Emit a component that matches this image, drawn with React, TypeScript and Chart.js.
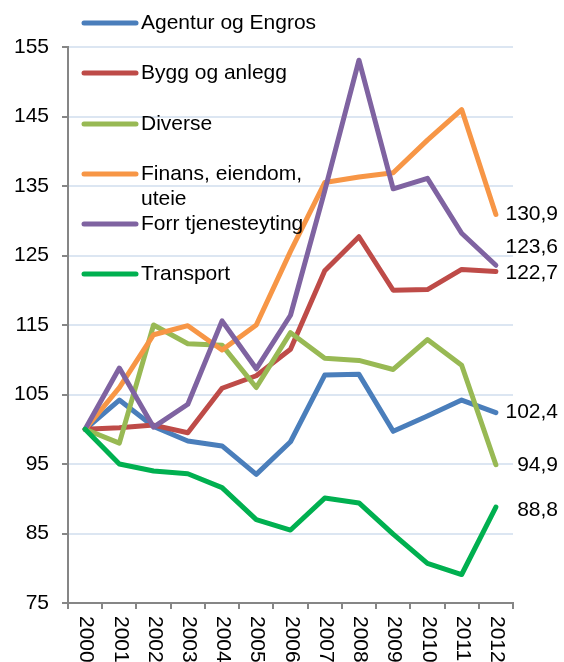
import React, { useEffect, useRef } from "react";
import { Chart, registerables } from "chart.js";

Chart.register(...registerables);

const years = ["2000","2001","2002","2003","2004","2005","2006","2007","2008","2009","2010","2011","2012"];
const seriesNames = ["Agentur og Engros", "Bygg og anlegg", "Diverse", "Finans, eiendom, uteie", "Forr tjenesteyting", "Transport"];
const legendLines = [["Agentur og Engros"], ["Bygg og anlegg"], ["Diverse"], ["Finans, eiendom,", "uteie"], ["Forr tjenesteyting"], ["Transport"]];
const agentur = [100, 104.2, 100.4, 98.3, 97.6, 93.5, 98.2, 107.8, 107.9, 99.7, 101.9, 104.2, 102.4];
const bygg = [100, 100.2, 100.6, 99.5, 105.9, 107.7, 111.5, 122.8, 127.7, 120.0, 120.1, 123.0, 122.7];
const diverse = [100, 98.0, 115.0, 112.3, 112.1, 106.0, 113.9, 110.2, 109.9, 108.6, 112.9, 109.2, 94.9];
const finans = [100, 106.0, 113.6, 114.9, 111.4, 115.0, 125.6, 135.5, 136.3, 136.9, 141.6, 146.0, 130.9];
const forr = [100, 108.8, 100.3, 103.6, 115.6, 108.7, 116.4, 134.3, 153.1, 134.6, 136.1, 128.2, 123.6];
const transport = [100, 95.0, 94.0, 93.6, 91.6, 87.0, 85.5, 90.1, 89.4, 84.9, 80.7, 79.1, 88.8];
const endLabels = ["102,4", "122,7", "94,9", "130,9", "123,6", "88,8"];
const yTicks = [75, 85, 95, 105, 115, 125, 135, 145, 155];

const colors = ["#4A7EBB", "#BE4B48", "#98B954", "#F79646", "#7F63A1", "#00B050"];
const endLabelDy = [0, 2, 1, 0, -18, 3];
const FONT = "'Liberation Sans', Arial, sans-serif";

const overlayPlugin = {
  id: "overlay",
  afterDatasetsDraw(chart: any) {
    const ctx = chart.ctx;
    const x = chart.scales.x;
    ctx.save();
    ctx.fillStyle = "#000";
    // rotated x labels (reading top to bottom)
    ctx.font = `21px ${FONT}`;
    ctx.textAlign = "left";
    ctx.textBaseline = "middle";
    years.forEach((yr, i) => {
      const px = x.getPixelForValue(i);
      ctx.save();
      ctx.translate(px + 1, chart.chartArea.bottom + 13);
      ctx.rotate(Math.PI / 2);
      ctx.fillText(yr, 0, 0);
      ctx.restore();
    });
    // end labels
    ctx.textAlign = "right";
    chart.data.datasets.forEach((ds: any, i: number) => {
      const meta = chart.getDatasetMeta(i);
      const pt = meta.data[meta.data.length - 1];
      ctx.fillText(endLabels[i], 558, pt.y + endLabelDy[i]);
    });
    // legend
    const rowY = [23, 73, 124, 174, 224, 274];
    ctx.font = `21px ${FONT}`;
    ctx.textAlign = "left";
    legendLines.forEach((lines, i) => {
      ctx.strokeStyle = colors[i];
      ctx.lineWidth = 5;
      ctx.lineCap = "round";
      ctx.beginPath();
      ctx.moveTo(84, rowY[i]);
      ctx.lineTo(136, rowY[i]);
      ctx.stroke();
      lines.forEach((t, j) => {
        ctx.fillText(t, 141, rowY[i] + j * 25);
      });
    });
    ctx.restore();
  },
};

export default function App() {
  const ref = useRef<HTMLCanvasElement>(null);
  useEffect(() => {
    if (!ref.current) return;
    const data = [agentur, bygg, diverse, finans, forr, transport];
    const chart = new Chart(ref.current, {
      type: "line",
      data: {
        labels: years,
        datasets: data.map((d, i) => ({
          label: seriesNames[i],
          data: d,
          borderColor: colors[i],
          backgroundColor: colors[i],
          borderWidth: 5,
          pointRadius: 0,
          borderJoinStyle: "round" as const,
          borderCapStyle: "round" as const,
          tension: 0,
          order: 5 - i,
        })),
      },
      options: {
        responsive: false,
        animation: false,
        devicePixelRatio: 1,
        layout: { padding: { top: 47, right: 51, left: 0, bottom: 0 } },
        plugins: { legend: { display: false }, tooltip: { enabled: false } },
        scales: {
          x: {
            offset: true,
            grid: { offset: true, drawOnChartArea: false, drawTicks: true, tickLength: 6, tickColor: "#868686", lineWidth: 2 },
            border: { color: "#868686", width: 2 },
            ticks: { display: false },
            afterFit(scale: any) { scale.height = 59; },
          },
          y: {
            min: 75,
            max: 155,
            afterBuildTicks(scale: any) { scale.ticks = yTicks.map((v) => ({ value: v })); },
            grid: { color: "#DCE6F2", lineWidth: 2, tickLength: 6, tickColor: "#868686" },
            border: { color: "#868686", width: 2 },
            ticks: { color: "#000", padding: 13, font: { family: FONT, size: 21 } },
            afterFit(scale: any) { scale.width = 68; },
          },
        },
      },
      plugins: [overlayPlugin],
    });
    return () => chart.destroy();
  }, []);
  return (
    <div style={{ position: "fixed", left: 0, top: 0, width: 564, height: 662, background: "#fff" }}>
      <canvas ref={ref} width={564} height={662} style={{ display: "block" }} />
    </div>
  );
}
